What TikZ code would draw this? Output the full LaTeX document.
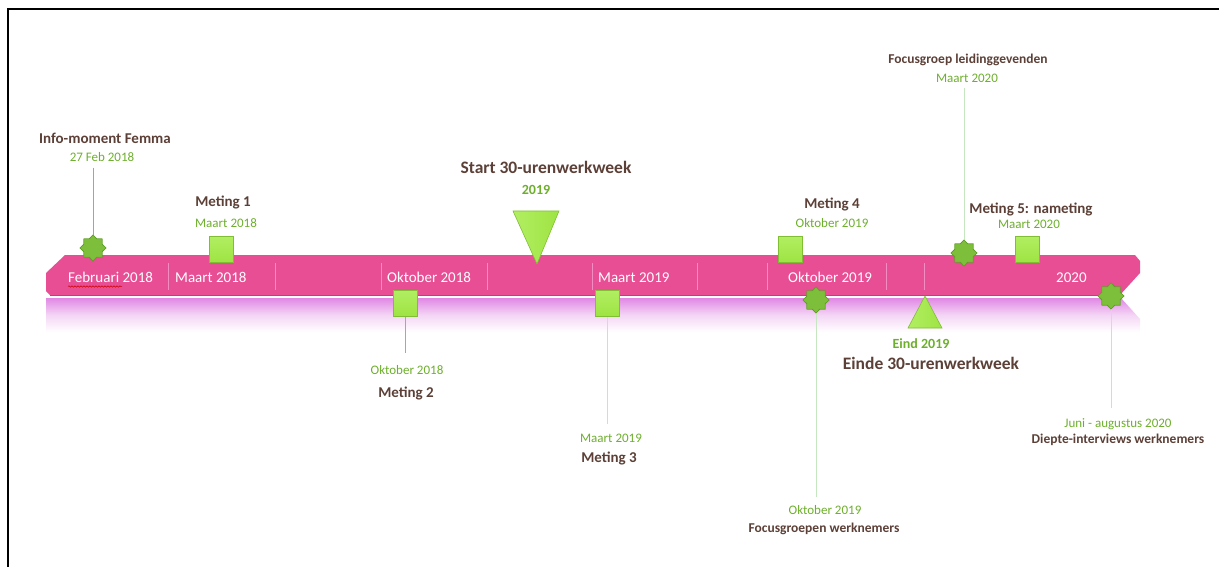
\documentclass[tikz,border=0pt]{standalone}
\usepackage{fontspec}
\setmainfont{Carlito}
\usetikzlibrary{shapes.geometric,decorations.pathmorphing}
\definecolor{brownT}{HTML}{5C4037}
\definecolor{greenT}{HTML}{6DAF2C}
\definecolor{barpink}{HTML}{E84E94}
\definecolor{bardark}{HTML}{C93A7C}
\definecolor{divpink}{HTML}{F28CC2}
\definecolor{reflpink}{HTML}{E088E4}
\definecolor{sqfill}{HTML}{9EE443}
\definecolor{sqlight}{HTML}{B2EE62}
\definecolor{sqdraw}{HTML}{80BE34}
\definecolor{starfill}{HTML}{7DBF3A}
\definecolor{stardraw}{HTML}{5E9E26}
\definecolor{stemgreen}{HTML}{C6E6C2}
\definecolor{stemsalmon}{HTML}{D4968A}
\tikzset{
  biglabel/.style={font=\bfseries\fontsize{17.5}{20}\selectfont, text=brownT, inner sep=0, anchor=base},
  medlabel/.style={font=\bfseries\fontsize{15}{18}\selectfont, text=brownT, inner sep=0, anchor=base},
  smalllabel/.style={font=\bfseries\fontsize{13.5}{16}\selectfont, text=brownT, inner sep=0, anchor=base},
  datelabel/.style={font=\fontsize{13}{16}\selectfont, text=greenT, inner sep=0, anchor=base},
  bolddate/.style={font=\bfseries\fontsize{14}{16}\selectfont, text=greenT, inner sep=0, anchor=base},
  barlabel/.style={font=\fontsize{15}{18}\selectfont, text=white, inner sep=0, anchor=base west},
  sqmark/.style={rectangle, minimum width=24pt, minimum height=26pt, inner sep=0,
    top color=sqlight, bottom color=sqfill, draw=sqdraw, line width=0.8pt},
  starmark/.style={star, star points=8, star point ratio=1.32, minimum size=26pt, inner sep=0,
    fill=starfill, draw=stardraw, line width=0.6pt},
  stem/.style={draw=stemgreen, line width=1pt},
  divider/.style={draw=divpink, line width=1pt},
}
\begin{document}
\begin{tikzpicture}[x=1pt,y=-1pt]
\useasboundingbox (0,0) rectangle (1219,567);
% frame
\draw[line width=2pt] (8,567) -- (8,9) -- (1219,9);

% reflection
\shade[top color=reflpink, bottom color=white, middle color=reflpink!35!white]
  (46,298) -- (1121,298) -- (1140,319) -- (1140,332) -- (46,332) -- cycle;
% bar
\fill[barpink] (65,255) -- (1135,255) -- (1140,261) -- (1140,273) -- (1120,295)
  -- (50,295) -- (46,291) -- (46,273) -- cycle;
\draw[bardark, line width=1pt] (50,295) -- (1120,295);

% dividers
\foreach \dx in {168,275,381,487,592,697,767,886,924}
  \draw[divider] (\dx,263) -- (\dx,290);

% bar labels
\node[barlabel] (bFeb) at (68,282) {Februari 2018};
\node[barlabel] (bMa18) at (175,282) {Maart 2018};
\node[barlabel] (bOk18) at (387,282) {Oktober 2018};
\node[barlabel] (bMa19) at (598,282) {Maart 2019};
\node[barlabel] (bOk19) at (788,282) {Oktober 2019};
\node[barlabel] (b20) at (1056,282) {2020};
\draw[red!80!black, line width=0.5pt, decorate, decoration={snake, segment length=3pt, amplitude=0.7pt}]
  (68,286.5) -- (122,286.5);

% 1: Info-moment Femma
\node[starmark] (st1) at (93,248) {};
\coordinate (st1top) at (93,168);
\draw[draw=greenT!80!white, line width=1pt] (st1top) -- (st1);
\node[starmark] at (93,248) {};
\node[datelabel] (d1) at (102,162) {27 Feb 2018};
\node[medlabel] (l1) at (105,144) {Info-moment Femma};

% 2: Meting 1
\node[sqmark] (sq1) at (221,249) {};
\node[datelabel] (d2) at (226,227) {Maart 2018};
\node[medlabel] (l2) at (223,207) {Meting 1};

% 3: Start 30-urenwerkweek
\coordinate (tri1) at (537,240);
\shade[left color=sqlight, right color=sqfill, draw=sqdraw, line width=0.6pt]
  (513,211) -- (559,211) -- (537,264) -- cycle;
\node[bolddate] (d3) at (536,195) {2019};
\node[biglabel] (l3) at (546,174) {Start 30-urenwerkweek};

% 4: Meting 2
\node[sqmark] (sq2) at (405,303) {};
\coordinate (sq2end) at (405,353);
\draw[draw=stemsalmon, line width=1pt] (sq2) -- (sq2end);
\node[sqmark] at (405,303) {};
\node[datelabel] (d4) at (407,374) {Oktober 2018};
\node[medlabel] (l4) at (406,397) {Meting 2};

% 5: Meting 3
\node[sqmark] (sq3) at (607,303) {};
\coordinate (sq3end) at (607,424);
\draw[stem] (sq3) -- (sq3end);
\node[sqmark] at (607,303) {};
\node[datelabel] (d5) at (611,442) {Maart 2019};
\node[medlabel] (l5) at (609,462) {Meting 3};

% 6: Meting 4
\node[sqmark] (sq4) at (790,249) {};
\node[datelabel] (d6) at (832,227) {Oktober 2019};
\node[medlabel] (l6) at (832,208) {Meting 4};

% 7: Focusgroepen werknemers
\node[starmark] (st2) at (816,300) {};
\coordinate (st2end) at (816,497);
\draw[stem] (st2) -- (st2end);
\node[starmark] at (816,300) {};
\node[datelabel] (d7) at (825,514) {Oktober 2019};
\node[smalllabel] (l7) at (824,532) {Focusgroepen werknemers};

% 8: Einde 30-urenwerkweek
\coordinate (tri2) at (925,315);
\shade[left color=sqlight, right color=sqfill, draw=sqdraw, line width=0.6pt]
  (925,296) -- (942,328) -- (908,328) -- cycle;
\node[bolddate] (d8) at (921,348) {Eind 2019};
\node[biglabel] (l8) at (931,369) {Einde 30-urenwerkweek};

% 9: Focusgroep leidinggevenden
\node[starmark] (st3) at (964,253) {};
\coordinate (st3top) at (964,88);
\draw[stem] (st3top) -- (st3);
\node[starmark] at (964,253) {};
\node[datelabel] (d9) at (967,83) {Maart 2020};
\node[smalllabel] (l9) at (968,64) {Focusgroep leidinggevenden};

% 10: Meting 5
\node[sqmark] (sq5) at (1027,249) {};
\node[datelabel] (d10) at (1029,228) {Maart 2020};
\node[medlabel] (l10) at (1031,214) {Meting 5: nameting};

% 11: Diepte-interviews
\node[starmark] (st4) at (1111,296) {};
\coordinate (st4end) at (1111,408);
\draw[stem] (st4) -- (st4end);
\node[starmark] at (1111,296) {};
\node[datelabel] (d11) at (1118,427) {Juni - augustus 2020};
\node[smalllabel] (l11) at (1118,443) {Diepte-interviews werknemers};
\end{tikzpicture}
\end{document}
